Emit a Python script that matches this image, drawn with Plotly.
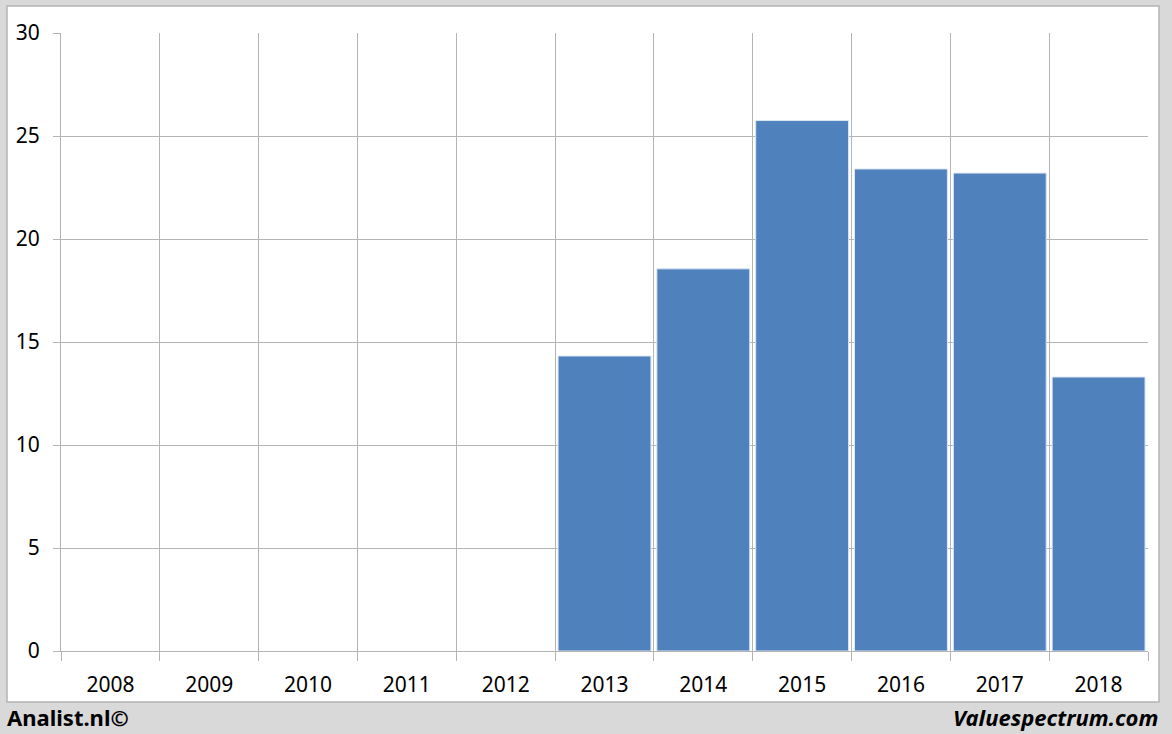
import plotly.graph_objects as go

years = ["2008", "2009", "2010", "2011", "2012", "2013", "2014", "2015", "2016", "2017", "2018"]
values = [None, None, None, None, None, 14.32, 18.55, 25.75, 23.4, 23.2, 13.3]
y_ticks = [0, 5, 10, 15, 20, 25, 30]

W, H = 1172, 734
L, R, T, B = 61, 24, 33, 83
pw, ph = W - L - R, H - T - B

def px(x):
    return (x - L) / pw

def py(y):
    return (H - B - y) / ph

fig = go.Figure()
fig.add_trace(go.Bar(
    x=years, y=values,
    marker=dict(color="#4f81bd", line=dict(color="#dce6f2", width=1)),
))

fig.update_layout(
    width=W, height=H,
    margin=dict(l=L, r=R, t=T, b=B),
    paper_bgcolor="#d9d9d9",
    plot_bgcolor="white",
    bargap=0.06,
    showlegend=False,
    font=dict(family="Noto Sans, DejaVu Sans, sans-serif", size=18, color="#000000"),
    xaxis=dict(
        type="category",
        tickson="boundaries",
        showgrid=True, gridcolor="#b4b4b4", gridwidth=1,
        ticks="outside", ticklen=9, tickcolor="#b4b4b4",
        showline=True, linecolor="#b4b4b4",
        ticklabelstandoff=15,
        tickfont=dict(size=21),
    ),
    yaxis=dict(
        range=[0, 30], tickvals=y_ticks,
        showgrid=True, gridcolor="#b4b4b4", gridwidth=1,
        ticks="outside", ticklen=7, tickcolor="#b4b4b4",
        showline=True, linecolor="#b4b4b4",
        zeroline=False,
        ticklabelstandoff=9,
        tickfont=dict(size=21),
    ),
    shapes=[dict(
        type="rect", xref="paper", yref="paper", layer="below",
        x0=px(7), x1=px(1159), y0=py(702), y1=py(6),
        fillcolor="white", line=dict(color="#b4b4b4", width=1.5),
    )],
    annotations=[
        dict(text="<b>Analist.nl©</b>", xref="paper", yref="paper",
             x=px(5), y=py(717), xanchor="left", yanchor="middle",
             showarrow=False, font=dict(size=22, color="#000000")),
        dict(text="<b><i>Valuespectrum.com</i></b>", xref="paper", yref="paper",
             x=px(1160), y=py(717), xanchor="right", yanchor="middle",
             showarrow=False, font=dict(size=22, color="#000000")),
    ],
)

fig.write_html("out.html", config={"displayModeBar": False},
               post_script="document.body.style.margin='0';document.body.style.overflow='hidden';")
